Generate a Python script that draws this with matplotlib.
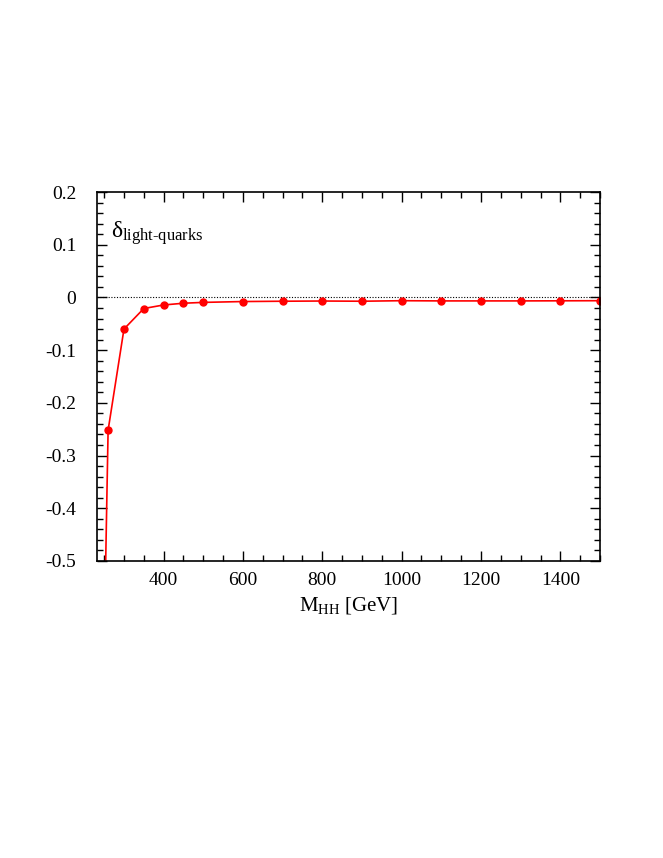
import numpy as np
import matplotlib
matplotlib.use("Agg")
from matplotlib import pyplot as plt
from matplotlib.ticker import MultipleLocator

# M_HH [GeV] and delta_light-quarks
mhh = [250, 260, 300, 350, 400, 450, 500, 600, 700, 800, 900, 1000, 1100, 1200, 1300, 1400, 1500]
delta = [-0.66, -0.252, -0.060, -0.021, -0.0143, -0.011, -0.0094, -0.0078, -0.0072, -0.0068,
         -0.0072, -0.0062, -0.0066, -0.0066, -0.0066, -0.0064, -0.0062]
err = [0.0, 0.004, 0.0015, 0.001, 0.0008, 0.0008, 0.0008, 0.0008, 0.0008, 0.0008,
       0.0008, 0.0008, 0.0008, 0.0008, 0.0008, 0.0008, 0.0008]

plt.rcParams['font.family'] = ['Liberation Serif', 'DejaVu Serif']
plt.rcParams['mathtext.fontset'] = 'custom'
plt.rcParams['mathtext.rm'] = 'Liberation Serif'
plt.rcParams['mathtext.it'] = 'Liberation Serif'

fig = plt.figure(figsize=(6.63, 8.58), dpi=100)
ax = fig.add_axes([0.1463, 0.3462, 0.9050 - 0.1463, 0.7762 - 0.3462])

ax.axhline(0, color="black", ls=(0, (1, 1.5)), lw=0.8)
ax.errorbar(mhh, delta, yerr=err, color="red", marker="o", ms=5, lw=1.2,
            capsize=2.5, elinewidth=1.0, clip_on=True)

ax.set_xlim(232, 1500)
ax.set_ylim(-0.5, 0.2)
ax.xaxis.set_major_locator(MultipleLocator(200))
ax.xaxis.set_minor_locator(MultipleLocator(50))
ax.yaxis.set_major_locator(MultipleLocator(0.1))
ax.yaxis.set_minor_locator(MultipleLocator(0.02))
ax.tick_params(which="both", direction="in", top=True, right=True, labelsize=14, width=1.0)
ax.tick_params(which="major", length=7)
ax.tick_params(which="minor", length=4)
ax.tick_params(axis="x", pad=8)
ax.tick_params(axis="y", pad=15)
for s in ax.spines.values():
    s.set_linewidth(1.2)

ax.yaxis.set_major_formatter(plt.FuncFormatter(lambda v, p: "0" if abs(v) < 1e-9 else "%g" % v))

ax.set_xlabel(r"M$_{\mathrm{HH}}$ [GeV]", fontsize=15, labelpad=4)
ax.text(0.028, 0.875, r"$\delta_{\mathrm{light\text{-}quarks}}$", transform=ax.transAxes, fontsize=17)

fig.savefig("out.png", dpi=100)
